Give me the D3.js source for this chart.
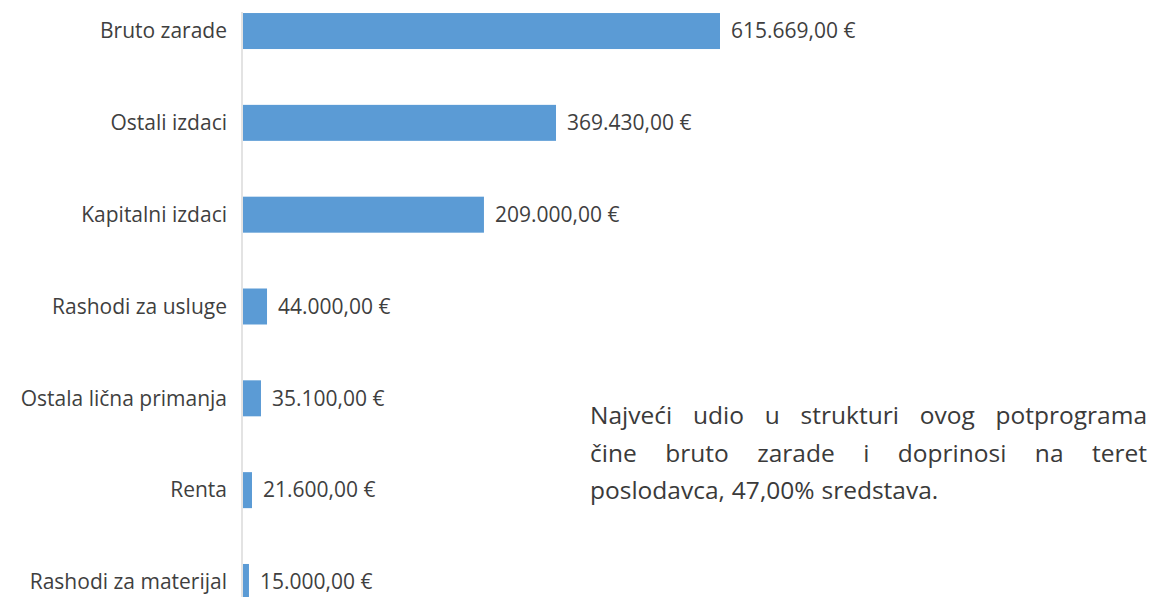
<!DOCTYPE html>
<html>
<head>
<meta charset="utf-8">
<script src="https://cdn.jsdelivr.net/npm/d3@7"></script>
<style>
  body { margin: 0; background: #fff; }
  text { font-family: "Open Sans", "Noto Sans", sans-serif; fill: #3f3f3f; }
</style>
</head>
<body>
<script>
// categories, top to bottom
var categories = ["Bruto zarade", "Ostali izdaci", "Kapitalni izdaci", "Rashodi za usluge",
                  "Ostala lična primanja", "Renta", "Rashodi za materijal"];
// amounts printed next to the bars
var amounts = [615669, 369430, 209000, 44000, 35100, 21600, 15000];
// bar lengths as drawn in the source picture (they do not follow the printed amounts)
var plotted = [615669, 404000, 311000, 31000, 23200, 11600, 7700];
// note on the right
var noteLines = ["Najveći udio u strukturi ovog potprograma",
                 "čine bruto zarade i doprinosi na teret",
                 "poslodavca, 47,00% sredstava."];

var width = 1151, height = 597;
var padding = { left: 243, top: 0 };

var svg = d3.select("body").append("svg")
    .attr("width", width).attr("height", height);

var xscale = d3.scaleLinear()
    .domain([0, d3.max(plotted)])
    .range([padding.left, 720]);

var yscale = d3.scaleBand()
    .domain(categories)
    .range([0, 613])
    .paddingInner(0.608)
    .paddingOuter(0.142);

var euro = d3.formatLocale({ decimal: ",", thousands: ".", grouping: [3], currency: ["", " €"] });
var fmt = function(v) { return euro.format(",.2f")(v) + " €"; };

// vertical category axis line
svg.append("line")
    .attr("x1", padding.left - 1).attr("x2", padding.left - 1)
    .attr("y1", 12).attr("y2", height)
    .attr("stroke", "#e3e3e3").attr("stroke-width", 2);

// bars
svg.selectAll("rect.bar").data(categories)
  .enter().append("rect")
    .attr("class", "bar")
    .attr("x", xscale(0))
    .attr("y", function(d) { return yscale(d); })
    .attr("width", function(d, i) { return xscale(plotted[i]) - xscale(0); })
    .attr("height", yscale.bandwidth())
    .attr("fill", "#5b9bd5");

// category labels
svg.selectAll("text.cat").data(categories)
  .enter().append("text")
    .attr("class", "cat")
    .attr("x", padding.left - 16)
    .attr("y", function(d) { return yscale(d) + yscale.bandwidth() / 2; })
    .attr("dy", "0.35em")
    .attr("text-anchor", "end")
    .style("font-size", "21px")
    .text(function(d) { return d; });

// value labels
svg.selectAll("text.val").data(categories)
  .enter().append("text")
    .attr("class", "val")
    .attr("x", function(d, i) { return xscale(plotted[i]) + 11; })
    .attr("y", function(d) { return yscale(d) + yscale.bandwidth() / 2; })
    .attr("dy", "0.35em")
    .style("font-size", "21px")
    .text(function(d, i) { return fmt(amounts[i]); });

// justified note text
var noteLeft = 590, noteRight = 1147, noteTop = 424, lineGap = 37.5;
noteLines.forEach(function(line, li)
{
  var words = line.split(" ");
  var g = svg.append("g");
  var nodes = words.map(function(w)
  {
    return g.append("text")
        .attr("y", noteTop + li * lineGap)
        .style("font-size", "24.5px")
        .style("fill", "#3a3a3a")
        .text(w);
  });
  var widths = nodes.map(function(n) { return n.node().getComputedTextLength(); });
  var total = d3.sum(widths);
  var last = li === noteLines.length - 1;
  var gap = last ? 7 : (noteRight - noteLeft - total) / (words.length - 1);
  var x = noteLeft;
  nodes.forEach(function(n, i)
  {
    n.attr("x", x);
    x += widths[i] + gap;
  });
});
</script>
</body>
</html>
